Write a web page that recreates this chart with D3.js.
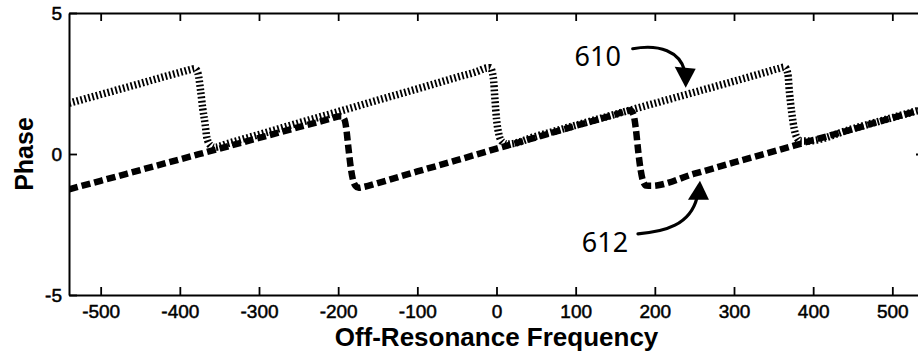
<!DOCTYPE html>
<html>
<head>
<meta charset="utf-8">
<script src="https://cdn.jsdelivr.net/npm/d3@7"></script>
<style>
  body { margin: 0; background: #fff; }
  svg { display: block; }
</style>
</head>
<body>
<div id="chart"></div>
<script>
// ---- data ----
const xTicks = [-500, -400, -300, -200, -100, 0, 100, 200, 300, 400, 500];
const yTicks = [-5, 0, 5];

// curve 610 (dotted)
const freq610 = [-540, -500, -450, -420, -395, -386, -381, -377, -374, -371, -368, -366, -362, -356,
                 -340, -300, -250, -200, -150, -100, -50, -24, -14, -8, -4, -2, 0, 3, 7, 14,
                 50, 100, 150, 200, 250, 300, 340, 356, 364, 368, 370, 373, 376, 379, 384, 392,
                 450, 500, 540];
const phase610 = [1.80, 2.11, 2.50, 2.74, 2.93, 3.00, 3.03, 2.85, 2.30, 1.60, 1.05, 0.60, 0.33, 0.24,
                  0.37, 0.69, 1.10, 1.50, 1.91, 2.31, 2.72, 2.93, 3.04, 3.06, 2.70, 1.95, 1.25, 0.70, 0.44, 0.35,
                  0.63, 1.02, 1.41, 1.80, 2.19, 2.58, 2.90, 3.03, 3.08, 2.85, 2.20, 1.45, 0.90, 0.60, 0.46, 0.46,
                  0.90, 1.29, 1.60];

// curve 612 (dashed)
const freq612 = [-540, -500, -450, -400, -350, -300, -250, -210, -200, -196, -192, -190, -187, -184, -181, -178, -174, -168,
                 -150, -100, -50, 0, 50, 100, 150, 164, 169, 173, 176, 179, 182, 185, 189, 195,
                 250, 300, 350, 400, 450, 500, 540];
const phase612 = [-1.25, -0.95, -0.57, -0.19, 0.19, 0.57, 0.95, 1.25, 1.33, 1.34, 1.22, 0.95, 0.20, -0.50, -0.95, -1.13, -1.20, -1.17,
                  -1.03, -0.62, -0.22, 0.19, 0.59, 1.00, 1.40, 1.52, 1.55, 1.40, 0.90, 0.10, -0.55, -0.95, -1.12, -1.13,
                  -0.70, -0.30, 0.09, 0.49, 0.88, 1.28, 1.60];

// callouts: label and the point the arrow touches
const calloutText = ["610", "612"];
const calloutFreq = [239, 257];
const calloutPhase = [2.35, -0.95];

// ---- layout ----
const W = 918, H = 358;
const margin = {top: 13, left: 69, bottom: 63};
const plotRight = 924; // right frame sits just outside the window

const svg = d3.select("#chart").append("svg")
    .attr("width", W)
    .attr("height", H);

const x = d3.scaleLinear().domain([-540, 540]).range([margin.left, plotRight]);
const y = d3.scaleLinear().domain([-5, 5]).range([H - margin.bottom, margin.top]);

const font = "'Liberation Sans', Arial, sans-serif";
const plainNum = d => String(d); // keep ascii hyphen like the original

svg.append("clipPath").attr("id", "plotClip")
  .append("rect")
    .attr("x", margin.left)
    .attr("y", margin.top)
    .attr("width", plotRight - margin.left)
    .attr("height", y(-5) - y(5));

// lines
const line = d3.line()
    .x(d => x(d[0]))
    .y(d => y(d[1]))
    .curve(d3.curveMonotoneX);

const g = svg.append("g").attr("clip-path", "url(#plotClip)");

g.append("path")
    .datum(d3.zip(freq610, phase610))
    .attr("d", line)
    .attr("fill", "none")
    .attr("stroke", "#000")
    .attr("stroke-width", 7.5)
    .attr("stroke-dasharray", "1.8 2.2");

g.append("path")
    .datum(d3.zip(freq612, phase612))
    .attr("d", line)
    .attr("fill", "none")
    .attr("stroke", "#000")
    .attr("stroke-width", 6.5)
    .attr("stroke-dasharray", "9 4");

// axes: ticks point inward on all four sides
const axisStyle = sel => {
    sel.selectAll("path.domain").attr("stroke", "#000").attr("stroke-width", 2);
    sel.selectAll(".tick line").attr("stroke", "#000").attr("stroke-width", 1.8);
    sel.selectAll(".tick text").attr("fill", "#000")
        .attr("stroke", "#000").attr("stroke-width", 0.5)
        .style("font-family", font).style("font-size", "19px");
};

svg.append("g")
    .attr("transform", `translate(0,${y(-5)})`)
    .call(d3.axisBottom(x).tickValues(xTicks).tickFormat(plainNum)
        .tickSizeInner(-8).tickSizeOuter(0).tickPadding(10))
    .call(axisStyle);

svg.append("g")
    .attr("transform", `translate(0,${y(5)})`)
    .call(d3.axisTop(x).tickValues(xTicks).tickSizeInner(-8).tickSizeOuter(0).tickFormat(""))
    .call(axisStyle);

svg.append("g")
    .attr("transform", `translate(${margin.left},0)`)
    .call(d3.axisLeft(y).tickValues(yTicks).tickFormat(plainNum)
        .tickSizeInner(-8).tickSizeOuter(0).tickPadding(7))
    .call(axisStyle);

svg.append("g")
    .attr("transform", `translate(${plotRight},0)`)
    .call(d3.axisRight(y).tickValues([0]).tickSizeInner(-8).tickSizeOuter(0).tickFormat(""))
    .call(axisStyle);

// axis titles
svg.append("text")
    .attr("x", x(0))
    .attr("y", 346)
    .attr("text-anchor", "middle")
    .style("font-family", font)
    .style("font-size", "26px")
    .style("font-weight", "bold")
    .text("Off-Resonance Frequency");

svg.append("text")
    .attr("transform", `translate(33,${y(0)}) rotate(-90)`)
    .attr("text-anchor", "middle")
    .style("font-family", font)
    .style("font-size", "25px")
    .style("font-weight", "bold")
    .text("Phase");

// callouts (hand-drawn style arrows)
// offsets of label / curve / head relative to the arrow tip
const calloutShape = [
    {tx: -88, ty: -31, path: "M-53,-39 C-26,-44 -6,-36 -1,-17", head: [[0, 0], [-11, -21], [10, -19]]},
    {tx: -95, ty: 62, path: "M-62,53 C-35,51 -10,44 -3,17", head: [[0, 0], [-12, 19], [9, 19]]}
];

calloutText.forEach((t, i) => {
    const px = x(calloutFreq[i]), py = y(calloutPhase[i]);
    const s = calloutShape[i];
    const cg = svg.append("g").attr("transform", `translate(${px},${py})`);
    cg.append("text")
        .attr("x", s.tx)
        .attr("y", s.ty)
        .attr("text-anchor", "middle")
        .attr("dy", "0.35em")
        .style("font-family", "'Noto Sans', sans-serif")
        .style("font-size", "27px")
        .text(t);
    cg.append("path")
        .attr("d", s.path)
        .attr("fill", "none")
        .attr("stroke", "#000")
        .attr("stroke-width", 3.2)
        .attr("stroke-linecap", "round");
    cg.append("path")
        .attr("d", "M" + s.head.join("L") + "Z")
        .attr("fill", "#000");
});
</script>
</body>
</html>
